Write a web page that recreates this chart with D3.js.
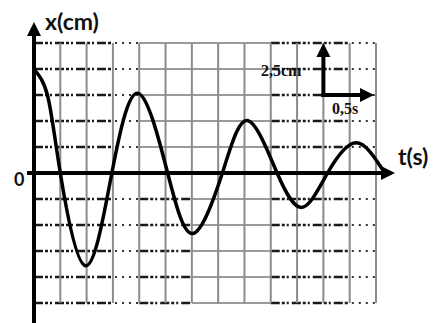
<!DOCTYPE html>
<html>
<head>
<meta charset="utf-8">
<script src="https://cdn.jsdelivr.net/npm/d3@7"></script>
<style>
  body { margin: 0; background: #fff; }
  svg { display: block; }
</style>
</head>
<body>
<svg id="chart"></svg>
<script>
// damped oscillation (t in s, x in cm)
var tVals = [0, 0.13, 0.25, 0.49, 0.74, 0.99, 1.27, 1.51, 1.79, 2.03, 2.31, 2.55, 2.79, 3.06, 3.32];
var xVals = [5.0, 3.7, 0, -4.46, 0, 3.83, 0, -2.91, 0, 2.52, 0, -1.65, 0, 1.45, 0.1];

// grid lines every 0.25 s and every 1.25 cm
var gridT = d3.range(0, 13).map(function(i) { return 0.25 * (i + 1); });
var gridX = [-6.25, -5, -3.75, -2.5, -1.25, 1.25, 2.5, 3.75, 5, 6.25];

var width = 434, height = 323;

var chart = d3.select('#chart')
    .attr('width', width)
    .attr('height', height);

var xs = d3.scaleLinear().domain([0, 3.25]).range([34, 376]);
var ys = d3.scaleLinear().domain([-6.25, 6.25]).range([303, 43]);

chart.append("rect")
    .attr("width", width)
    .attr("height", height)
    .attr("fill", "white");

var grid = chart.append("g");

// horizontal lines: grey base plus dark dashed scan bits in some columns
function hSeg(v, t0, t1, style) {
    var l = grid.append("line")
        .attr("x1", xs(t0)).attr("x2", xs(t1))
        .attr("y1", ys(v)).attr("y2", ys(v));
    if (style == "grey") {
        l.attr("stroke", "#9a9a9a").attr("stroke-width", 2);
    } else if (style == "dash") {
        l.attr("stroke", "#1a1a1a").attr("stroke-width", 2.4)
            .attr("stroke-dasharray", "9,2,3,2,2,3");
    } else {
        l.attr("stroke", "#333").attr("stroke-width", 2)
            .attr("stroke-dasharray", "2,5");
    }
}

gridX.forEach(function(v) {
    hSeg(v, 0, 0.75, "dash");
    hSeg(v, 0.77, 1.0, "dots");
    if (v < 0) {
        hSeg(v, 1.0, 1.5, "dash");
        hSeg(v, 1.5, 2.25, "grey");
    } else {
        hSeg(v, 1.0, 2.25, "grey");
    }
    hSeg(v, 2.25, 3.0, "dash");
    hSeg(v, 3.02, 3.25, "dots");
});

grid.selectAll("line.v")
    .data(gridT)
    .enter()
    .append("line")
        .attr("class", "v")
        .attr("x1", function(d) { return xs(d); })
        .attr("x2", function(d) { return xs(d); })
        .attr("y1", ys(6.25))
        .attr("y2", ys(-6.25))
        .attr("stroke", "#8c8c8c")
        .attr("stroke-width", 2);

// axes with arrows
var x0 = xs(0), y0 = ys(0);

chart.append("line")
    .attr("x1", x0).attr("x2", x0)
    .attr("y1", height).attr("y2", 32)
    .attr("stroke", "#000").attr("stroke-width", 4);
chart.append("path")
    .attr("d", "M" + x0 + ",22 L" + (x0 - 7) + ",36 L" + (x0 + 7) + ",36 Z")
    .attr("fill", "#000");

chart.append("line")
    .attr("x1", 27).attr("x2", 385)
    .attr("y1", y0).attr("y2", y0)
    .attr("stroke", "#000").attr("stroke-width", 4);
chart.append("path")
    .attr("d", "M395," + y0 + " L381," + (y0 - 7) + " L381," + (y0 + 7) + " Z")
    .attr("fill", "#000");

// curve
var line = d3.line()
    .x(function(d, i) { return xs(tVals[i]); })
    .y(function(d, i) { return ys(xVals[i]); })
    .curve(d3.curveNatural);

chart.append("path")
    .attr("d", line(tVals))
    .attr("fill", "none")
    .attr("stroke", "#000")
    .attr("stroke-width", 3.5);

// scale indicator
var sx = xs(2.75), sy = ys(3.75);
chart.append("line")
    .attr("x1", sx).attr("x2", sx)
    .attr("y1", sy + 2).attr("y2", ys(6.25) + 10)
    .attr("stroke", "#000").attr("stroke-width", 4);
chart.append("path")
    .attr("d", "M" + sx + "," + ys(6.25) + " L" + (sx - 7) + "," + (ys(6.25) + 14) + " L" + (sx + 7) + "," + (ys(6.25) + 14) + " Z")
    .attr("fill", "#000");
chart.append("line")
    .attr("x1", sx - 2).attr("x2", xs(3.25) - 10)
    .attr("y1", sy).attr("y2", sy)
    .attr("stroke", "#000").attr("stroke-width", 4);
chart.append("path")
    .attr("d", "M" + (xs(3.25) - 2) + "," + sy + " L" + (xs(3.25) - 16) + "," + (sy - 7) + " L" + (xs(3.25) - 16) + "," + (sy + 7) + " Z")
    .attr("fill", "#000");

// labels
chart.append("text")
    .attr("x", 45).attr("y", 30)
    .style("font-family", "Lato, sans-serif")
    .style("font-weight", "bold")
    .style("font-size", "23px")
    .attr("fill", "#111")
    .text("x(cm)");

chart.append("text")
    .attr("x", 14).attr("y", 186)
    .style("font-family", "Lato, sans-serif")
    .style("font-weight", "bold")
    .style("font-size", "18px")
    .attr("fill", "#111")
    .text("0");

chart.append("text")
    .attr("x", 398).attr("y", 165)
    .style("font-family", "Lato, sans-serif")
    .style("font-weight", "bold")
    .style("font-size", "23px")
    .attr("fill", "#111")
    .text("t(s)");

chart.append("text")
    .attr("x", 261).attr("y", 76)
    .style("font-family", "'Liberation Serif', serif")
    .style("font-weight", "bold")
    .style("font-size", "16px")
    .attr("fill", "#111")
    .text("2,5cm");

chart.append("text")
    .attr("x", 332).attr("y", 114)
    .style("font-family", "'Liberation Serif', serif")
    .style("font-weight", "bold")
    .style("font-size", "16px")
    .attr("fill", "#111")
    .text("0,5s");
</script>
</body>
</html>
